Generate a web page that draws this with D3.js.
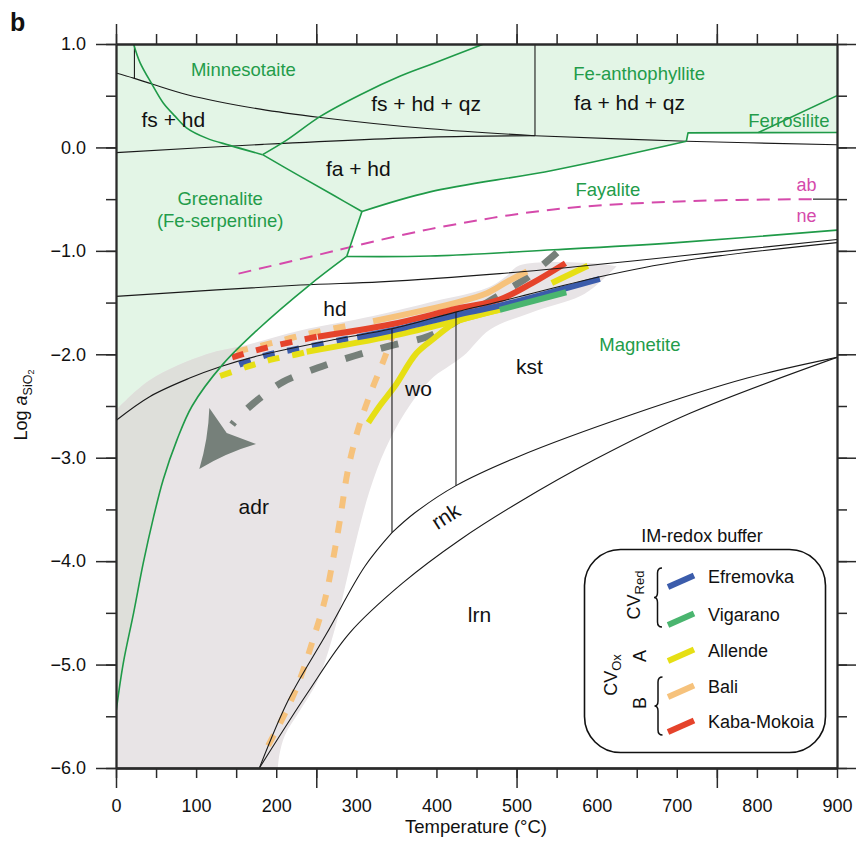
<!DOCTYPE html>
<html><head><meta charset="utf-8">
<script src="https://cdn.jsdelivr.net/npm/d3@7"></script>
<style>
body{margin:0;background:#fff}
svg{display:block}
text{font-family:"Liberation Sans",Arial,Helvetica,sans-serif;fill:#111}
</style>
</head><body>
<svg id="c" width="856" height="844"></svg>
<script>
// ---------- tick data ----------
const xTicksMinor = d3.range(0, 901, 50);
const xTicksMajor = [0, 250, 500, 750];
const xTickLabels = d3.range(0, 901, 100);
const yTicksMinor = d3.range(-6, 1.01, 0.5);
const yTicksMajor = d3.range(-6, 1.01, 1);

// ---------- green (Fe-silicate) boundaries [T, log aSiO2] ----------
const minnLeft = [[22,1.0],[30,0.82],[45,0.61],[59,0.43],[74,0.30],[88,0.19],[113,0.09],[142,0.02],[183,-0.07]];
const minnRight = [[183,-0.07],[213,0.07],[255,0.30],[305,0.51],[355,0.69],[392,0.80],[459,1.0]];
const greenFaHd = [[183,-0.07],[230,-0.28],[271,-0.46],[307,-0.62]];
const triJoin = [[307,-0.62],[288,-1.054]];
const fayaliteTop = [[307,-0.62],[392,-0.43],[546,-0.22],[712,0.06]];
const fayaliteStep = [[712,0.06],[714,0.141],[900,0.145]];
const ferrosiliteLine = [[802,0.145],[900,0.50]];
const fayMagn = [[288,-1.054],[392,-1.05],[546,-0.99],[700,-0.92],[900,-0.80]];
const greenaliteMagn = [[288,-1.054],[240,-1.34],[177,-1.76],[133,-2.10],[95,-2.50],[76,-2.83],[59,-3.21],[47,-3.57],[34,-4.02],[22,-4.50],[9,-4.99],[0,-5.46]];

// ---------- black (Ca-silicate) boundaries ----------
const fsHdUpper = [[0,0.72],[22,0.67],[46,0.61],[89,0.51],[180,0.37],[255,0.29],[392,0.18],[523,0.113]];
const fsHdLower = [[0,-0.05],[184,0.03],[392,0.10],[523,0.113]];
const faHdQz = [[523,0.113],[712,0.06],[900,0.026]];
const vQz = [[523,1.0],[523,0.113]];
const vMinn = [[23,1.0],[23,0.67]];
const hdUpper = [[0,-1.44],[230,-1.33],[330,-1.30],[479,-1.22],[604,-1.13],[704,-1.05],[900,-0.89]];
const hdLower = [[0,-2.64],[42,-2.41],[92,-2.23],[130,-2.12],[180,-2.01],[271,-1.86],[344.5,-1.753],[425,-1.59],[479,-1.49],[604,-1.25],[704,-1.10],[900,-0.92]];
const woLeft = [[344.5,-1.753],[344.5,-3.725]];
const woRight = [[424.4,-1.59],[424.4,-3.27]];
const rnkUpper = [[344.5,-3.725],[372.7,-3.535],[424.4,-3.27],[502,-2.99],[645,-2.58],[788,-2.23],[900,-2.03]];
const rnkLower = [[179,-6.0],[239,-5.275],[291.5,-4.695],[358,-4.21],[430,-3.79],[502,-3.435],[597,-3.02],[716.5,-2.57],[900,-2.03]];
const adrRnk = [[344.5,-3.725],[310.7,-4.05],[262.9,-4.70],[215.3,-5.34],[179,-6.0]];
const abNe = [[153,-1.22],[230,-1.08],[392,-0.79],[546,-0.60],[712,-0.52],[870,-0.50]];
const abNeEnd = [[870,-0.50],[900,-0.50]];

// ---------- grey field ----------
const greyUpper = [[0,-2.54],[42,-2.25],[113,-2.0],[163,-1.91],[230,-1.77],[321,-1.63],[396,-1.49],[463,-1.36],[488,-1.24],[504,-1.14],[596,-1.12],[625,-1.15]];
const greyLower = [[625,-1.15],[600,-1.33],[579,-1.44],[517,-1.60],[467,-1.76],[433,-2.02],[392,-2.25],[361,-2.56],[336,-2.92],[317,-3.31],[302,-3.73],[288,-4.18],[273,-4.66],[252,-5.15],[230,-5.44],[211,-5.68],[204,-5.87],[202,-6.0]];

// ---------- IM-redox buffer paths ----------
const efremovkaDash = [[154,-2.10],[187,-2.01],[218,-1.96],[251,-1.91],[282,-1.86],[301,-1.835]];
const efremovka = [[301,-1.835],[344,-1.77],[425,-1.62],[479,-1.53],[604,-1.27]];
const vigarano = [[479,-1.57],[562,-1.40]];
const allendeDash = [[130,-2.21],[164,-2.12],[195,-2.05],[226,-2.0],[238,-1.976]];
const allende = [[238,-1.976],[346,-1.82],[425,-1.676],[479,-1.569]];
const allendeCurve = [[315,-2.66],[330,-2.49],[348,-2.31],[375,-1.99],[398,-1.84],[416,-1.73],[426,-1.68],[479,-1.569]];
const allendeShort = [[544,-1.311],[589,-1.144]];
const baliDash = [[150,-1.975],[190,-1.90],[222,-1.835],[253,-1.78],[292,-1.72]];
const bali = [[321,-1.68],[425,-1.50],[463,-1.41],[488,-1.30],[513,-1.20]];
const baliCurve = [[348,-1.76],[334.5,-2.05],[317,-2.39],[302,-2.73],[289.6,-3.115],[279.6,-3.60],[270.9,-3.985],[260.9,-4.37],[245.9,-4.76],[227.2,-5.19],[207.2,-5.53],[182.3,-5.89]];
const kabaDash = [[145,-2.03],[171,-1.97],[202,-1.91],[232,-1.86],[251,-1.83]];
const kaba = [[252,-1.83],[344,-1.71],[425,-1.56],[479,-1.47],[520,-1.31],[561,-1.12]];
const oxPath = [[550.5,-1.017],[514,-1.254],[494,-1.353],[442,-1.599],[392,-1.821],[342,-1.918],[298,-2.014],[252,-2.130],[208.5,-2.266],[188.5,-2.372],[171,-2.478],[152,-2.614],[145,-2.68]];
const arrowHead = [[116.5,-2.519],[104,-3.109],[174.8,-2.868],[138.2,-2.761]];

const legendNames = ['Efremovka','Vigarano','Allende','Bali','Kaba-Mokoia'];
const colors = {blue:'#3b5cab', green:'#4ab56f', yellow:'#e6df14', bali:'#f6c27c', red:'#e5432b', grey:'#76807a'};
const legendColors = [colors.blue, colors.green, colors.yellow, colors.bali, colors.red];

// ---------- scales ----------
const x = d3.scaleLinear().domain([0, 900]).range([116, 837]);
const y = d3.scaleLinear().domain([-6, 1]).range([768, 44]);
const svg = d3.select('#c');
const lin = d3.line().x(d => x(d[0])).y(d => y(d[1]));
const smo = d3.line().x(d => x(d[0])).y(d => y(d[1])).curve(d3.curveCatmullRom.alpha(0.5));
const cont = s => s.replace(/^M/, 'L');

const GREEN_FILL = '#e3f5e6', GREY_FILL = '#e8e4e6', OVER_FILL = '#dedfda';
const GLINE = '#1f9a48';

// green field polygon
const greenPoly = lin([[0,1],[900,1],[900,0.145],[714,0.141],[712,0.06]]) +
  cont(smo(fayaliteTop.slice().reverse())) +
  cont(lin(triJoin)) +
  cont(smo(greenaliteMagn)) + 'Z';
const greyPoly = smo(greyUpper) + cont(smo(greyLower)) + cont(lin([[202,-6],[0,-6]])) + 'Z';

const defs = svg.append('defs');
defs.append('clipPath').attr('id','gclip').append('path').attr('d', greenPoly);
defs.append('clipPath').attr('id','plot').append('rect').attr('x',116).attr('y',44).attr('width',721).attr('height',724);

const plot = svg.append('g').attr('clip-path','url(#plot)');
plot.append('path').attr('d', greenPoly).attr('fill', GREEN_FILL);
plot.append('path').attr('d', greyPoly).attr('fill', GREY_FILL);
plot.append('path').attr('d', greyPoly).attr('fill', OVER_FILL).attr('clip-path','url(#gclip)');

function draw(g, pts, color, width, dash, curve) {
  g.append('path').attr('d', (curve === false ? lin : smo)(pts))
    .attr('fill','none').attr('stroke', color).attr('stroke-width', width)
    .attr('stroke-dasharray', dash || null).attr('stroke-linecap','butt').attr('stroke-linejoin','round');
}

// magenta ab/ne
draw(plot, abNe, '#d54aab', 2, '13 8');
draw(plot, abNeEnd, '#222', 1.2, null, false);

// oxidation path with arrowhead
draw(plot, oxPath, colors.grey, 7, '18 19');
{
  const P = arrowHead.map(d => [x(d[0]), y(d[1])]);
  const g = [(P[0][0]+P[1][0]+P[2][0])/3, (P[0][1]+P[1][1]+P[2][1])/3];
  const ctrl = (a,b,amt) => { const m=[(a[0]+b[0])/2,(a[1]+b[1])/2]; const dx=g[0]-m[0], dy=g[1]-m[1]; const L=Math.hypot(dx,dy); return [m[0]+dx/L*amt, m[1]+dy/L*amt]; };
  const c1 = ctrl(P[0],P[1],4), c2 = ctrl(P[1],P[2],4);
  plot.append('path').attr('d', `M${P[0]}Q${c1} ${P[1]}Q${c2} ${P[2]}L${P[3]}Z`).attr('fill', colors.grey);
}

// buffer paths
const W = 6, D = '12 13';
draw(plot, baliCurve, colors.bali, W, D);
draw(plot, allendeCurve, colors.yellow, W);
draw(plot, baliDash, colors.bali, W, D);
draw(plot, kabaDash, colors.red, W, D);
draw(plot, efremovkaDash, colors.blue, W, D);
draw(plot, allendeDash, colors.yellow, W, D);
draw(plot, bali, colors.bali, W);
draw(plot, kaba, colors.red, W);
draw(plot, allende, colors.yellow, W);
draw(plot, efremovka, colors.blue, W);
draw(plot, vigarano, colors.green, W, null, false);
draw(plot, allendeShort, colors.yellow, W, null, false);

// black boundaries
const BL = '#1a1a1a', BW = 1.1;
[fsHdUpper, fsHdLower, faHdQz, hdUpper, hdLower, rnkUpper, rnkLower, adrRnk].forEach(p => draw(plot, p, BL, BW));
[vQz, vMinn, woLeft, woRight].forEach(p => draw(plot, p, BL, BW, null, false));

// green boundaries
[minnLeft, minnRight, greenFaHd, fayaliteTop, fayMagn, greenaliteMagn].forEach(p => draw(plot, p, GLINE, 1.6));
[triJoin, fayaliteStep, ferrosiliteLine].forEach(p => draw(plot, p, GLINE, 1.6, null, false));

// ---------- labels ----------
function label(t, T, L, size, color, anchor) {
  return svg.append('text').attr('x', x(T)).attr('y', y(L)).attr('text-anchor', anchor || 'middle')
    .attr('font-size', size).style('fill', color || '#111').text(t);
}
const GT = '#239c4a';
label('Minnesotaite', 159, 0.687, 18.5, GT);
label('Fe-anthophyllite', 653, 0.655, 18.5, GT);
label('Ferrosilite', 840, 0.20, 18.5, GT);
label('Greenalite', 130, -0.554, 18.5, GT);
label('(Fe-serpentine)', 130, -0.77, 18.5, GT);
label('Fayalite', 614, -0.474, 18.5, GT);
label('Magnetite', 654, -1.966, 18.5, GT);
label('ab', 862, -0.425, 18, '#d54aab');
label('ne', 862, -0.725, 18, '#d54aab');
label('fs + hd', 71.6, 0.20, 21);
label('fs + hd + qz', 387, 0.355, 21);
label('fa + hd + qz', 641, 0.364, 21);
label('fa + hd', 302.5, -0.28, 21);
label('hd', 273.4, -1.634, 21);
label('kst', 516, -2.188, 21);
label('wo', 377.5, -2.407, 21);
label('adr', 172, -3.541, 21);
label('lrn', 453.7, -4.592, 21);
svg.append('text').attr('transform', `translate(${x(416.6)},${y(-3.625)}) rotate(-33)`)
  .attr('text-anchor','middle').attr('font-size',21).text('rnk');

// ---------- axes ----------
function styleAxis(g) {
  g.selectAll('path.domain').attr('stroke','#2a2a2a').attr('stroke-width',1.8);
  g.selectAll('.tick line').attr('stroke','#2a2a2a').attr('stroke-width',1.5);
  g.selectAll('.tick text').attr('font-size',18).attr('font-family','"Liberation Sans",Arial,sans-serif').attr('fill','#111');
}
const none = () => '';
svg.append('g').attr('transform','translate(0,768)').call(d3.axisBottom(x).tickValues(xTicksMinor).tickSize(10).tickSizeOuter(0).tickFormat(none)).call(styleAxis);
svg.append('g').attr('transform','translate(0,768)').call(d3.axisBottom(x).tickValues(xTicksMajor).tickSize(20).tickSizeOuter(0).tickFormat(none)).call(styleAxis);
svg.append('g').attr('transform','translate(0,768)').call(d3.axisBottom(x).tickValues(xTickLabels).tickSize(0).tickSizeOuter(0).tickPadding(31).tickFormat(d3.format('d'))).call(styleAxis);
svg.append('g').attr('transform','translate(0,44)').call(d3.axisTop(x).tickValues(xTicksMinor).tickSize(10).tickSizeOuter(0).tickFormat(none)).call(styleAxis);
svg.append('g').attr('transform','translate(0,44)').call(d3.axisTop(x).tickValues(xTicksMajor).tickSize(20).tickSizeOuter(0).tickFormat(none)).call(styleAxis);
svg.append('g').attr('transform','translate(116,0)').call(d3.axisLeft(y).tickValues(yTicksMinor).tickSize(10).tickSizeOuter(0).tickFormat(none)).call(styleAxis);
svg.append('g').attr('transform','translate(116,0)').call(d3.axisLeft(y).tickValues(yTicksMajor).tickSize(20).tickSizeOuter(0).tickPadding(10).tickFormat(d3.format('.1f'))).call(styleAxis);
svg.append('g').attr('transform','translate(837,0)').call(d3.axisRight(y).tickValues(yTicksMinor).tickSize(10).tickSizeOuter(0).tickFormat(none)).call(styleAxis);
svg.append('g').attr('transform','translate(837,0)').call(d3.axisRight(y).tickValues(yTicksMajor).tickSize(20).tickSizeOuter(0).tickFormat(none)).call(styleAxis);

// axis titles
svg.append('text').attr('x', 476).attr('y', 833).attr('text-anchor','middle').attr('font-size',18.5).text('Temperature (°C)');
{
  const t = svg.append('text').attr('transform','translate(26.5,405) rotate(-90)').attr('text-anchor','middle').attr('font-size',18);
  t.append('tspan').text('Log ');
  t.append('tspan').attr('font-style','italic').text('a');
  t.append('tspan').attr('font-size',12.5).attr('dy',5).text('SiO');
  t.append('tspan').attr('font-size',9).attr('dy',2.5).text('2');
}
svg.append('text').attr('x',10).attr('y',31).attr('font-size',25).attr('font-weight','bold').text('b');

// ---------- legend ----------
svg.append('text').attr('x',702).attr('y',542).attr('text-anchor','middle').attr('font-size',18).text('IM-redox buffer');
svg.append('rect').attr('x',584.5).attr('y',549.5).attr('width',241).attr('height',203).attr('rx',36)
  .attr('fill','#fff').attr('stroke','#111').attr('stroke-width',1.6);
const rowY = [583, 621, 657, 693, 728];
legendNames.forEach((n, i) => {
  const b = rowY[i];
  svg.append('line').attr('x1',668).attr('y1',b+4).attr('x2',694).attr('y2',b-7.5)
    .attr('stroke', legendColors[i]).attr('stroke-width',6);
  svg.append('text').attr('x',708).attr('y',b).attr('font-size',18).text(n);
});
function brace(xe, xm, xp, top, bot) {
  const mid = (top+bot)/2, r = 5;
  return `M${xe},${top}Q${xm},${top} ${xm},${top+r}L${xm},${mid-r}Q${xm},${mid} ${xp},${mid}Q${xm},${mid} ${xm},${mid+r}L${xm},${bot-r}Q${xm},${bot} ${xe},${bot}`;
}
svg.append('path').attr('d', brace(662, 657.5, 654, 568, 627)).attr('fill','none').attr('stroke','#111').attr('stroke-width',1.5);
svg.append('path').attr('d', brace(662.5, 658, 654.5, 677, 735)).attr('fill','none').attr('stroke','#111').attr('stroke-width',1.5);
function rotLabel(tx, ty, main, sub) {
  const t = svg.append('text').attr('transform',`translate(${tx},${ty}) rotate(-90)`).attr('text-anchor','middle').attr('font-size',18);
  t.append('tspan').text(main);
  if (sub) t.append('tspan').attr('font-size',13).attr('dy',4).text(sub);
}
rotLabel(640, 595, 'CV', 'Red');
rotLabel(617, 675, 'CV', 'Ox');
rotLabel(646, 656, 'A');
rotLabel(646, 703, 'B');
</script>
</body></html>
